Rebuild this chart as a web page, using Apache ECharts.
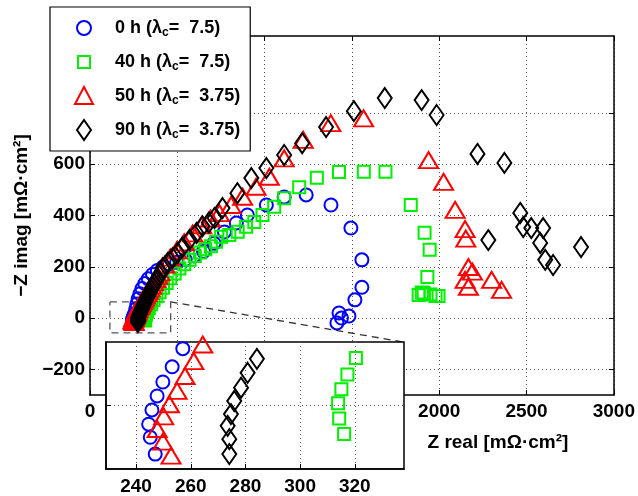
<!DOCTYPE html>
<html><head><meta charset="utf-8">
<script src="https://cdn.jsdelivr.net/npm/echarts@6/dist/echarts.min.js"></script>
<style>html,body{margin:0;padding:0;background:#fff}#c{width:638px;height:496px}</style>
</head><body><div id="c"></div>
<script>
// ---- data (Z real, -Z imag in mOhm*cm^2) ----
const seriesNames = ['0 h', '40 h', '50 h', '90 h'];
const legendLabels = ['0 h (λ|c|=  7.5)', '40 h (λ|c|=  7.5)', '50 h (λ|c|=  3.75)', '90 h (λ|c|=  3.75)'];

const real0h = [247.0,245.2,244.6,245.8,247.7,249.8,253.2,257.1,262,268,276,286,298,314,334,358,386,418,455,496,545,596,650,710,770,838,901,1010,1112,1238,1380,1494,1557,1557,1517,1483,1440,1426,1414];
const imag0h = [-15.3,-10.0,-5.9,-1.4,3.0,7.4,12.2,17.9,35,55,75,95,115,135,153,170,186,199,210,218,228,242,260,292,336,371,402,441,472,480,441,351,227,120,71,8,0,20,-19];

const real40h = [316.1,314.3,313.9,315.1,317.3,320.4,327,337,350,364,380,399,418,439,460,485,512,540,570,600,630,660,692,722,751,798,846,894,941,988,1055,1112,1198,1299,1426,1568,1692,1837,1916,1945,1932,1900,1882,1911,1950,1979,1996];
const imag40h = [-9.0,-4.1,0.7,5.1,9.8,15.0,25,38,54,70,85,101,118,137,155,174,193,210,227,242,256,268,280,298,317,324,337,356,375,402,434,467,510,547,570,571,571,441,333,266,160,100,90,98,92,86,86];

const real50h = [252.8,249.8,247.7,250.1,252.2,255,257.9,261.1,264.4,266,268,271,274,278,282,287,292,298,304,311,318,326,334,343,353,364,376,388,400,428,460,497,540,588,640,690,741,808,874,951,1027,1112,1221,1379,1567,1939,2025,2091,2148,2152,2167,2190,2148,2167,2300,2357];
const imag50h = [-15.8,-11.4,-7.4,-3.4,0.4,4.6,9.3,14,19.2,23,27,32,36,41,46,52,58,65,72,80,88,97,106,116,127,139,152,165,178,209,236,264,295,330,362,388,409,441,473,512,551,623,695,760,779,616,531,422,347,310,199,181,149,122,149,110];

const real90h = [274.1,274.1,273.5,274.7,275.9,278.4,280.8,284.2,288,291,294,297,300,303,306,310,314,319,324,330,336,343,350,358,367,376,386,396,405,416,445,473,502,530,570,610,644,680,713,759,844,924,1010,1112,1215,1352,1511,1688,1899,1985,2219,2373,2281,2464,2481,2527,2595,2578,2607,2652,2812];
const imag90h = [-15.3,-10.6,-6.4,-2.7,1.4,5.6,10.3,14.7,22,27,31,35,40,45,50,56,62,69,76,84,92,101,110,120,131,142,154,166,176,195,215,234,254,277,305,332,358,372,390,429,487,546,585,636,682,745,807,858,850,792,640,605,304,410,355,351,351,293,227,207,277];

// zoom-box annotation (main axes coordinates)
const zoomBoxReal = [114, 462, 462, 114, 114];
const zoomBoxImag = [63, 63, -58, -58, 63];
const connectorReal = [462, 1791];
const connectorImag = [63, -93];

// ticks
const mainYTicks = [-200, 0, 200, 400, 600, 800];
const insetXTicks = [240, 260, 280, 300, 320];
const insetYTicks = [0];

const colors = ['#0000ff', '#00ee00', '#ff0000', '#000000'];
const symbols = ['circle', 'rect', 'triangle', 'diamond'];
const symbolSizes = [13, 12, [19, 16], [14, 20]];
const legendIcons = [
  'path://M0,0M22,22M4,11A7,7 0 1 1 18,11A7,7 0 1 1 4,11Z',
  'path://M0,0M22,22M5,5L17,5L17,17L5,17Z',
  'path://M0,0M22,22M11,2L20,19L2,19Z',
  'path://M0,0M22,22M11,1L18,11L11,21L4,11Z'
];
const reals = [real0h, real40h, real50h, real90h];
const imags = [imag0h, imag40h, imag50h, imag90h];

function pairs(xs, ys) { return xs.map((x, i) => [x, ys[i]]); }
function fmt(v) { return v < 0 ? '\u2212' + (-v) : String(v); }

const axisFont = { fontFamily: 'Liberation Sans', fontWeight: 'bold', fontSize: 19, color: '#000' };
const gridLine = { show: true, lineStyle: { color: '#555', width: 1, type: [1, 3] } };
const axLine = { show: true, onZero: false, lineStyle: { color: '#000', width: 1.5 } };

const series = [];
[0, 1].forEach(g => {
  seriesNames.forEach((n, i) => {
    series.push({
      type: 'scatter', name: n, data: pairs(reals[i], imags[i]),
      symbol: symbols[i], symbolSize: symbolSizes[i],
      itemStyle: { color: 'rgba(0,0,0,0)', borderColor: colors[i], borderWidth: 2, opacity: 1 },
      emphasis: { disabled: true }, animation: false, clip: true,
      xAxisIndex: g, yAxisIndex: g, z: g === 0 ? 2 : 6
    });
  });
});
series.push({
  type: 'line', data: pairs(zoomBoxReal, zoomBoxImag), xAxisIndex: 0, yAxisIndex: 0,
  symbol: 'none', lineStyle: { color: '#555', width: 1.3, type: [7, 5] }, z: 1, animation: false, silent: true
});
series.push({
  type: 'line', data: pairs(connectorReal, connectorImag), xAxisIndex: 0, yAxisIndex: 0,
  symbol: 'none', lineStyle: { color: '#333', width: 1.3, type: [7, 5] }, z: 1, animation: false, silent: true
});

const richLegend = {
  t: { fontFamily: 'Liberation Sans', fontWeight: 'bold', fontSize: 18, color: '#000', lineHeight: 22 },
  s: { fontFamily: 'Liberation Sans', fontWeight: 'bold', fontSize: 12, color: '#000', lineHeight: 12, padding: [10, 0, 0, 0] }
};

const option = {
  animation: false,
  backgroundColor: '#fff',
  grid: [
    { left: 90, right: 23, top: 36, bottom: 101, show: false },
    { left: 106, right: 234, top: 342, bottom: 27, show: true, backgroundColor: '#fff', borderColor: '#000', borderWidth: 1.5, z: 3 }
  ],
  legend: {
    orient: 'vertical', left: 50, top: 7, padding: [9, 10, 9, 22],
    itemWidth: 52, itemHeight: 22, itemGap: 10,
    backgroundColor: '#fff', borderColor: '#000', borderWidth: 1.2,
    selectedMode: false, z: 10,
    data: seriesNames.map((n, i) => ({
      name: n, icon: legendIcons[i],
      itemStyle: { color: 'rgba(0,0,0,0)', borderColor: colors[i], borderWidth: 2 }
    })),
    formatter: function (name) {
      const parts = legendLabels[seriesNames.indexOf(name)].split('|');
      return '{t|' + parts[0] + '}{s|' + parts[1] + '}{t|' + parts[2] + '}';
    },
    textStyle: { rich: richLegend }
  },
  xAxis: [
    {
      gridIndex: 0, type: 'value', min: 0, max: 3000, interval: 500, position: 'bottom',
      axisLine: axLine,
      axisTick: { show: true, inside: true, length: 5, lineStyle: { color: '#000' } },
      axisLabel: Object.assign({ margin: 7, formatter: fmt }, axisFont),
      splitLine: gridLine,
      name: 'Z real [mΩ·cm²]', nameLocation: 'middle', nameGap: 38,
      nameTextStyle: Object.assign({ padding: [0, 0, 0, 292] }, axisFont)
    },
    {
      gridIndex: 1, type: 'value', min: 229, max: 338, position: 'bottom', z: 4,
      axisLine: axLine,
      axisTick: { show: true, inside: true, length: 5, customValues: insetXTicks, lineStyle: { color: '#000' } },
      axisLabel: Object.assign({ margin: 8, customValues: insetXTicks, formatter: fmt }, axisFont),
      splitLine: gridLine
    },
    {
      gridIndex: 0, type: 'value', min: 0, max: 3000, interval: 500, position: 'top',
      axisLine: axLine,
      axisTick: { show: true, inside: true, length: 5, lineStyle: { color: '#000' } },
      axisLabel: { show: false }, splitLine: { show: false }
    }
  ],
  yAxis: [
    {
      gridIndex: 0, type: 'value', min: -300, max: 1100, position: 'left',
      axisLine: axLine,
      axisTick: { show: true, inside: true, length: 5, customValues: mainYTicks, lineStyle: { color: '#000' } },
      axisLabel: Object.assign({ margin: 5, customValues: mainYTicks, formatter: fmt }, axisFont),
      splitLine: gridLine,
      name: '\u2212Z imag [mΩ·cm²]', nameLocation: 'middle', nameGap: 47,
      nameTextStyle: axisFont
    },
    {
      gridIndex: 1, type: 'value', min: -20, max: 20, position: 'left', z: 4,
      axisLine: axLine,
      axisTick: { show: true, inside: true, length: 5, customValues: insetYTicks, lineStyle: { color: '#000' } },
      axisLabel: { show: false },
      splitLine: gridLine
    },
    {
      gridIndex: 0, type: 'value', min: -300, max: 1100, position: 'right',
      axisLine: axLine,
      axisTick: { show: true, inside: true, length: 5, customValues: mainYTicks, lineStyle: { color: '#000' } },
      axisLabel: { show: false }, splitLine: { show: false }
    }
  ],
  series: series
};

const chart = echarts.init(document.getElementById('c'), null, { renderer: 'canvas' });
chart.setOption(option);
</script>
</body></html>
